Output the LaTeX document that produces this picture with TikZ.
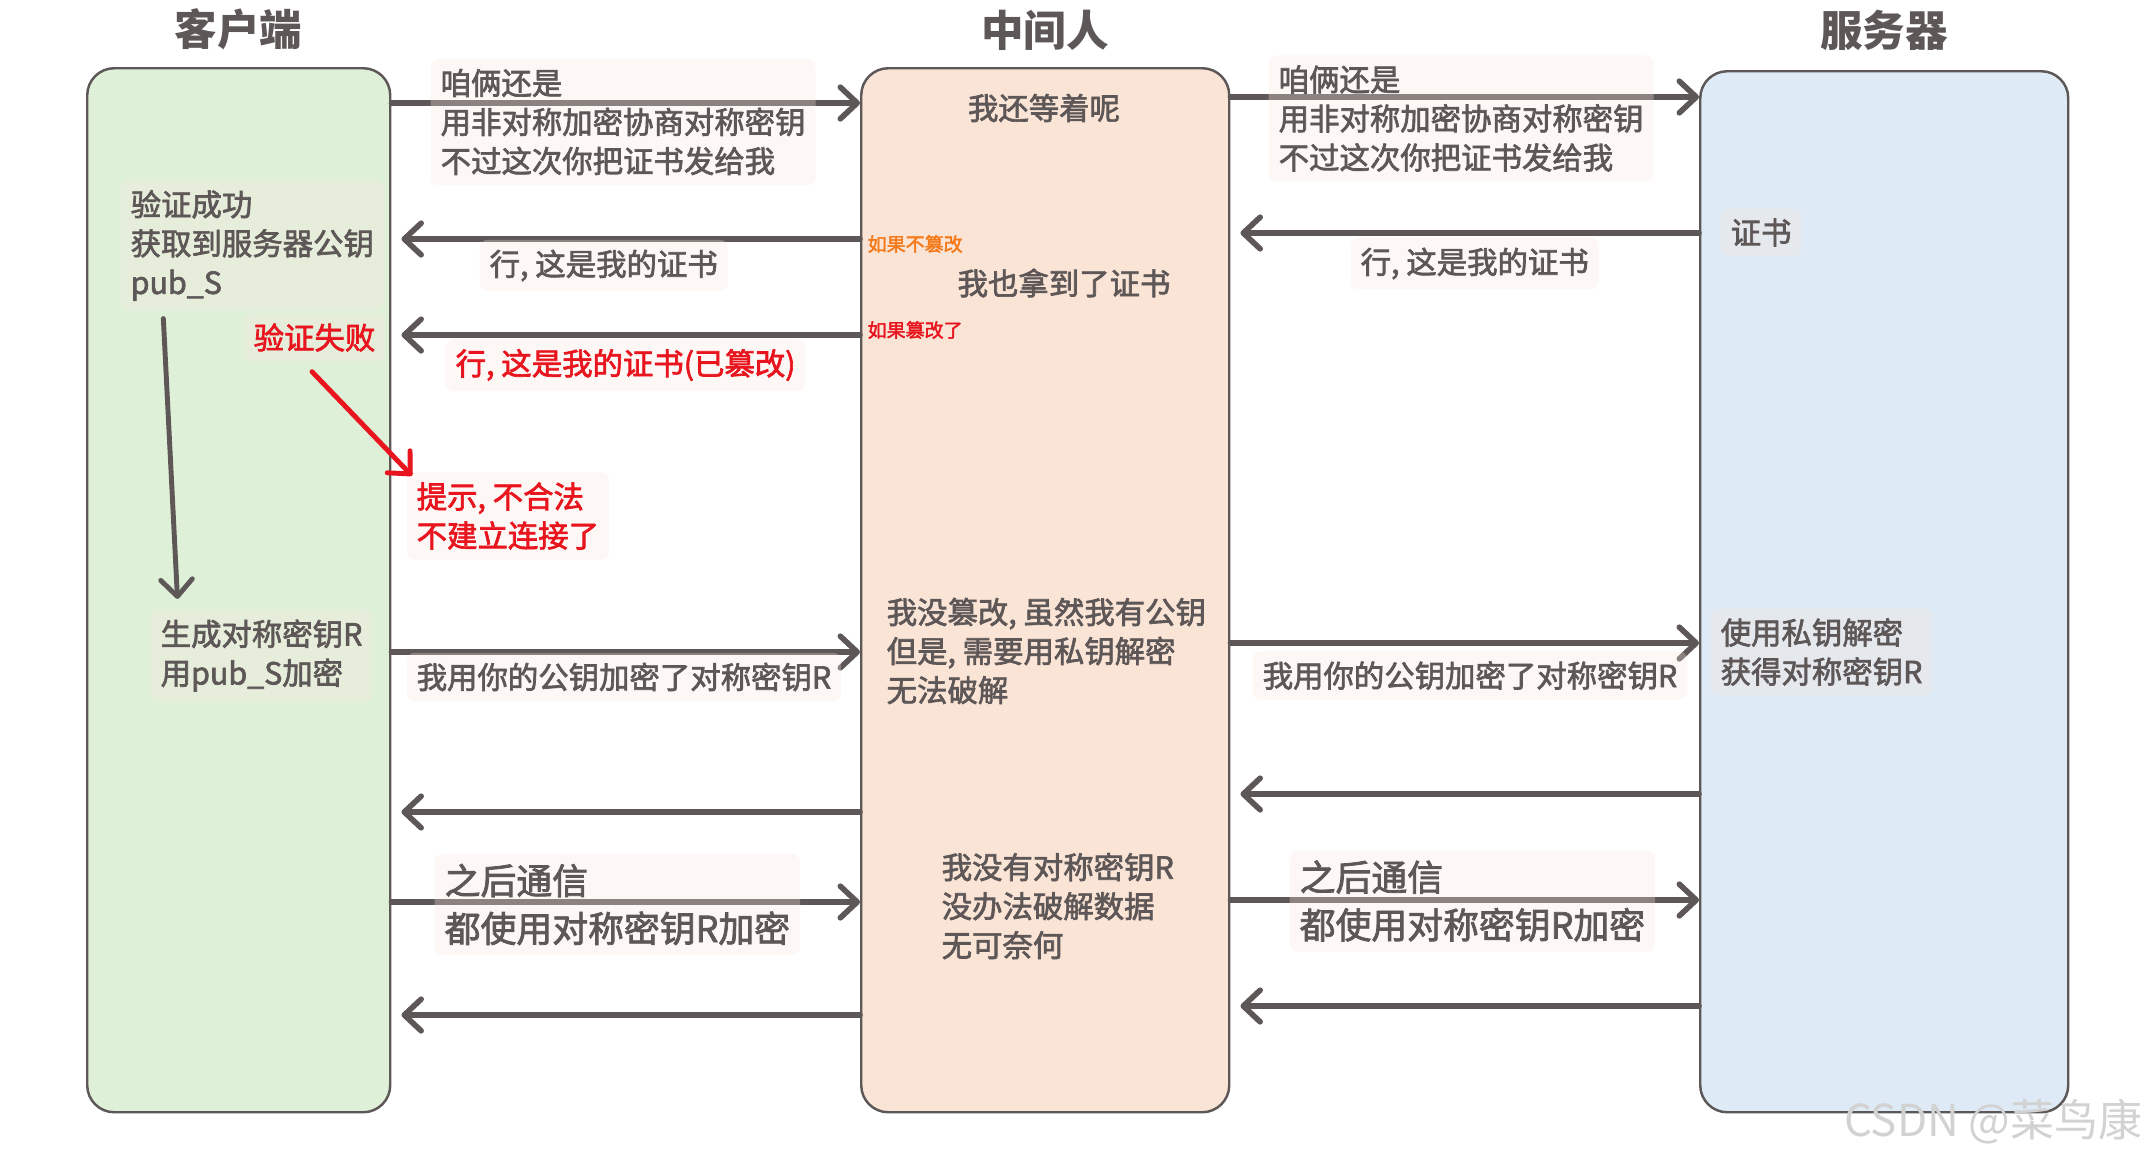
\documentclass[tikz,border=0pt]{standalone}
\usepackage{fontspec}
\setmainfont{Noto Sans CJK SC}
\newfontfamily\cjkbody[FakeBold=2.2]{Noto Sans CJK SC}
\usetikzlibrary{arrows.meta,positioning}
\definecolor{ink}{HTML}{5E5757}
\definecolor{clientbg}{HTML}{DFF0D9}
\definecolor{mitmbg}{HTML}{FAE4D6}
\definecolor{serverbg}{HTML}{DEEAF6}
\definecolor{notebg}{HTML}{F8E8DE}
\definecolor{alert}{HTML}{E8141E}
\definecolor{hint}{HTML}{F57A1A}
\begin{document}
\begin{tikzpicture}[font=\cjkbody\fontsize{8.65}{11.1}\selectfont, text=ink,
  lane/.style={draw=ink, line width=0.7pt, rounded corners=0.27cm, anchor=north west},
  lanetitle/.style={inner sep=0, font=\bfseries\fontsize{12.1}{14}\selectfont},
  note/.style={fill=notebg, fill opacity=0.3, text opacity=1, rounded corners=0.08cm, inner sep=0.1cm, align=left, anchor=west},
  plain/.style={inner sep=0, align=left, anchor=west},
  big/.style={font=\cjkbody\fontsize{10.2}{13.6}\selectfont},
  tiny/.style={font=\cjkbody\fontsize{5.4}{6.5}\selectfont},
  msg/.style={draw=ink, line width=1.6pt, line cap=round, -{Straight Barb[round,length=4.8pt,width=9pt]}},
  back/.style={msg, shorten >=0.1cm}]
  \useasboundingbox (0,0) rectangle (21.45,-11.57);
  % the three parties
  \node[lane, fill=clientbg, minimum width=3.03cm, minimum height=10.44cm] (client) at (0.86,-0.67) {};
  \node[lane, fill=mitmbg, minimum width=3.68cm, minimum height=10.44cm] (mitm) at (8.60,-0.67) {};
  \node[lane, fill=serverbg, minimum width=3.68cm, minimum height=10.41cm] (server) at (16.99,-0.70) {};
  \node[lanetitle, above=0.16cm of client] (tclient) {客户端};
  \node[lanetitle, above=0.16cm of mitm] (tmitm) {中间人};
  \node[lanetitle, above=0.19cm of server] (tserver) {服务器};
  % message rows
  \foreach \r/\y in {q1/1.03, q2/0.97, ok1/2.33, ok2/2.39, bad/3.35, key1/6.52, key2/6.43,
                     ack1/7.94, ack2/8.12, talk1/9.02, talk2/9.00, end1/10.06, end2/10.15}
    \coordinate (\r) at (0,-\y);
  \foreach \r in {q1,key1,talk1} \draw[msg] (client.east |- \r) -- (mitm.west |- \r);
  \foreach \r in {q2,key2,talk2} \draw[msg] (mitm.east |- \r) -- (server.west |- \r);
  \foreach \r in {ok1,ack1,end1} \draw[back] (server.west |- \r) -- (mitm.east |- \r);
  \foreach \r in {ok2,bad,ack2,end2} \draw[back] (mitm.west |- \r) -- (client.east |- \r);
  % texts
  \node[note] (ask1) at (4.30,-1.22) {咱俩还是\\用非对称加密协商对称密钥\\不过这次你把证书发给我};
  \node[note] (ask2) at (12.68,-1.185) {咱俩还是\\用非对称加密协商对称密钥\\不过这次你把证书发给我};
  \node[plain, anchor=center] (wait) at (10.44,-1.08) {我还等着呢};
  \node[note] (cert) at (17.20,-2.325) {证书};
  \node[note] (give1) at (13.50,-2.635) {行, 这是我的证书};
  \node[note] (give2) at (4.79,-2.655) {行, 这是我的证书};
  \node[plain, tiny, text=hint] (keep) at (8.67,-2.44) {如果不篡改};
  \node[plain, anchor=center] (got) at (10.64,-2.83) {我也拿到了证书};
  \node[note, text=alert] (forged) at (4.45,-3.65) {行, 这是我的证书(已篡改)};
  \node[plain, tiny, text=alert] (change) at (8.67,-3.30) {如果篡改了};
  \node[note] (valid) at (1.20,-2.455) {验证成功\\获取到服务器公钥\\pub\_S};
  \node[note, text=alert, anchor=center] (fail) at (3.145,-3.375) {验证失败};
  \node[note, text=alert] (warn) at (4.06,-5.16) {提示, 不合法\\不建立连接了};
  \node[note] (gen) at (1.50,-6.555) {生成对称密钥R\\用pub\_S加密};
  \node[note] (send1) at (4.06,-6.77) {我用你的公钥加密了对称密钥R};
  \node[plain] (nocrack) at (8.86,-6.51) {我没篡改, 虽然我有公钥\\但是, 需要用私钥解密\\无法破解};
  \node[note] (send2) at (12.52,-6.755) {我用你的公钥加密了对称密钥R};
  \node[note] (decrypt) at (17.10,-6.52) {使用私钥解密\\获得对称密钥R};
  \node[note, big] (after1) at (4.34,-9.045) {之后通信\\都使用对称密钥R加密};
  \node[note, big] (after2) at (12.89,-9.01) {之后通信\\都使用对称密钥R加密};
  \node[plain] (helpless) at (9.41,-9.06) {我没有对称密钥R\\没办法破解数据\\无可奈何};
  % inside the client
  \draw[msg, line width=1.4pt, shorten <=0.07cm, shorten >=0.1cm] ([xshift=0.43cm]valid.south west) -- ([xshift=0.28cm]gen.north west);
  \draw[msg, draw=alert, line width=1.4pt, shorten <=0.13cm] ([xshift=0.6cm]fail.south west) -- ([xshift=0.06cm,yshift=-0.04cm]warn.north west);
  \node[anchor=east, inner sep=0, text=gray!35, font=\fontsize{12.5}{14}\selectfont] (mark) at (21.43,-11.22) {CSDN @菜鸟康};
\end{tikzpicture}
\end{document}
